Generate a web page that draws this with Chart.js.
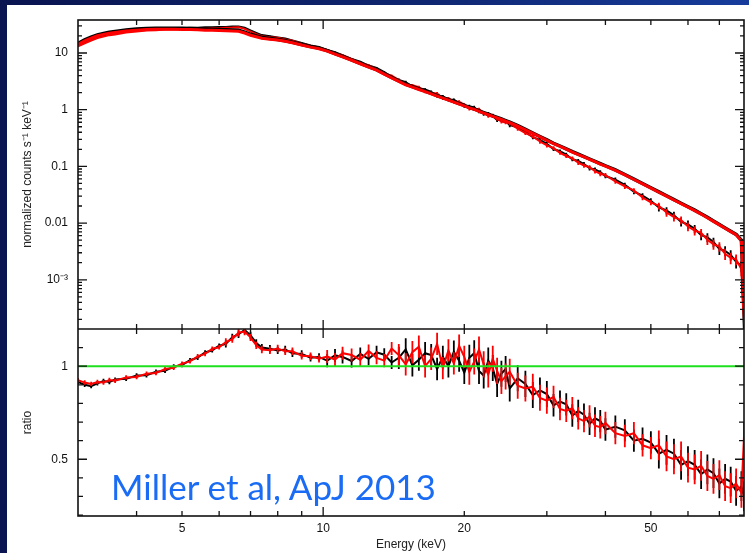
<!DOCTYPE html>
<html>
<head>
<meta charset="utf-8">
<script src="https://cdn.jsdelivr.net/npm/chart.js@4/dist/chart.umd.min.js"></script>
<style>
html, body { margin: 0; padding: 0; width: 749px; height: 553px; overflow: hidden;
  background: linear-gradient(90deg, #091450 0%, #0f2670 55%, #173c9c 100%); }
#panel { position: absolute; left: 7px; top: 5px; width: 742px; height: 548px; background: #fff; }
#wrap { position: absolute; left: 0; top: 0; width: 749px; height: 553px; }
#credit { position: absolute; left: 111px; top: 465px; font-family: Lato, 'Open Sans', sans-serif;
  font-size: 35px; color: #1a6cf5; white-space: nowrap; }
</style>
</head>
<body>
<div id="panel"></div>
<div id="wrap"><canvas id="spec" width="749" height="553"></canvas></div>
<div id="credit">Miller et al, ApJ 2013</div>
<script>
// energy grid (keV)
const energy = [3.0, 3.1, 3.2, 3.3, 3.4, 3.5, 3.6, 3.8, 4.0, 4.2,
  4.4, 4.6, 4.8, 5.0, 5.2, 5.4, 5.6, 5.8, 6.0, 6.2,
  6.4, 6.6, 6.8, 7.0, 7.2, 7.4, 7.7, 8.0, 8.3, 8.6,
  9.0, 9.4, 9.8, 10.2, 10.6, 11.0, 11.5, 12.0, 12.5, 13.0,
  13.5, 14.0, 14.5, 15.0, 15.5, 16.0, 16.5, 17.0, 17.5, 18.0,
  18.5, 19.0, 19.5, 20.0, 20.5, 21.0, 21.5, 22.0, 22.5, 23.0,
  23.5, 24.0, 24.5, 25.0, 26, 27, 28, 29, 30, 31,
  32, 33, 34, 35, 36, 37, 38, 39, 40, 42,
  44, 46, 48, 50, 52, 54, 56, 58, 60, 62,
  64, 66, 68, 70, 72, 74, 76, 78, 79];

// folded model, counts s-1 keV-1 (black = FPMA, red = FPMB)
const modelFPMA = [14.7, 17.0, 19.1, 20.9, 22.2, 23.2, 24.0, 25.4, 26.4, 27.0,
  27.3, 27.4, 27.4, 27.2, 27.0, 26.7, 26.4, 26.2, 25.9, 25.7,
  25.5, 25.1, 23.4, 21.4, 20.0, 18.8, 18.0, 17.3, 16.5, 15.5,
  14.1, 13.0, 12.2, 11.0, 9.77, 8.71, 7.60, 6.59, 5.77, 5.07,
  4.33, 3.72, 3.21, 2.81, 2.55, 2.32, 2.12, 1.94, 1.77, 1.63,
  1.50, 1.39, 1.28, 1.19, 1.10, 1.03, 0.955, 0.891, 0.832, 0.780,
  0.730, 0.685, 0.643, 0.605, 0.525, 0.450, 0.388, 0.337, 0.293, 0.256,
  0.229, 0.204, 0.182, 0.164, 0.149, 0.135, 0.123, 0.112, 0.1026, 0.0865,
  0.0721, 0.0597, 0.0499, 0.0420, 0.0356, 0.0303, 0.0259, 0.0224, 0.0194, 0.0169,
  0.01466, 0.01262, 0.01089, 0.00944, 0.00822, 0.00719, 0.00631, 0.0050, 0.0004];
const modelFPMB = [14.1, 16.3, 18.3, 20.1, 21.3, 22.3, 23.0, 24.4, 25.3, 25.9,
  26.2, 26.3, 26.3, 26.1, 25.9, 25.6, 25.3, 25.1, 24.9, 24.7,
  24.5, 24.1, 22.5, 20.6, 19.3, 18.2, 17.5, 16.9, 16.1, 15.2,
  13.8, 12.7, 11.9, 10.8, 9.57, 8.54, 7.45, 6.46, 5.65, 4.97,
  4.24, 3.65, 3.15, 2.75, 2.50, 2.27, 2.08, 1.90, 1.73, 1.60,
  1.47, 1.36, 1.25, 1.17, 1.08, 1.01, 0.936, 0.873, 0.815, 0.764,
  0.715, 0.671, 0.630, 0.593, 0.515, 0.441, 0.381, 0.331, 0.288, 0.252,
  0.225, 0.201, 0.179, 0.161, 0.147, 0.133, 0.121, 0.110, 0.1010, 0.0851,
  0.0710, 0.0588, 0.0491, 0.0413, 0.0350, 0.0298, 0.0255, 0.0220, 0.0191, 0.0166,
  0.01442, 0.01241, 0.01071, 0.00929, 0.00809, 0.00707, 0.00621, 0.0048, 0.0003];

// data / model
const ratioFPMA = [0.915, 0.900, 0.893, 0.908, 0.920, 0.915, 0.928, 0.932, 0.950, 0.952,
  0.970, 0.976, 0.998, 1.006, 1.032, 1.046, 1.074, 1.086, 1.110, 1.120,
  1.155, 1.172, 1.195, 1.165, 1.125, 1.100, 1.094, 1.085, 1.090, 1.070,
  1.066, 1.046, 1.050, 1.030, 1.058, 1.050, 1.028, 1.066, 1.040, 1.075,
  1.062, 1.020, 1.045, 1.090, 1.005, 1.035, 1.070, 1.060, 0.985, 1.050,
  1.000, 1.078, 1.030, 0.965, 1.045, 1.070, 0.975, 0.950, 1.030, 0.990,
  0.905, 0.960, 0.985, 0.880, 0.935, 0.905, 0.845, 0.870, 0.850, 0.790,
  0.810, 0.795, 0.735, 0.760, 0.740, 0.690, 0.720, 0.705, 0.660, 0.675,
  0.655, 0.600, 0.610, 0.590, 0.530, 0.550, 0.530, 0.470, 0.490, 0.470,
  0.420, 0.445, 0.425, 0.370, 0.395, 0.380, 0.330, 0.355, 0.300];
const ratioFPMB = [0.925, 0.912, 0.905, 0.915, 0.912, 0.926, 0.922, 0.940, 0.942, 0.960,
  0.963, 0.985, 0.992, 1.014, 1.026, 1.053, 1.066, 1.094, 1.102, 1.130,
  1.146, 1.180, 1.186, 1.155, 1.112, 1.090, 1.086, 1.095, 1.080, 1.080,
  1.056, 1.054, 1.040, 1.052, 1.036, 1.070, 1.060, 1.035, 1.082, 1.045,
  1.030, 1.095, 1.060, 1.010, 1.075, 1.105, 1.000, 1.040, 1.120, 0.990,
  1.085, 1.015, 1.110, 1.050, 0.970, 1.025, 1.090, 1.010, 0.955, 1.040,
  0.975, 0.920, 0.945, 0.970, 0.895, 0.880, 0.890, 0.830, 0.815, 0.835,
  0.770, 0.760, 0.775, 0.720, 0.705, 0.730, 0.680, 0.672, 0.695, 0.640,
  0.625, 0.640, 0.575, 0.560, 0.575, 0.515, 0.500, 0.515, 0.455, 0.445,
  0.465, 0.410, 0.395, 0.415, 0.355, 0.345, 0.370, 0.320, 0.620];
// 1-sigma error on the ratio
const ratioErr = [0.012, 0.012, 0.012, 0.012, 0.012, 0.012, 0.012, 0.012, 0.012, 0.012,
  0.012, 0.012, 0.012, 0.012, 0.012, 0.012, 0.012, 0.012, 0.012, 0.02,
  0.02, 0.02, 0.02, 0.02, 0.02, 0.02, 0.02, 0.02, 0.02, 0.02,
  0.02, 0.02, 0.02, 0.035, 0.035, 0.035, 0.035, 0.035, 0.035, 0.035,
  0.035, 0.035, 0.06, 0.06, 0.06, 0.06, 0.06, 0.06, 0.06, 0.06,
  0.06, 0.06, 0.06, 0.06, 0.07, 0.07, 0.07, 0.07, 0.07, 0.07,
  0.07, 0.07, 0.07, 0.07, 0.07, 0.07, 0.07, 0.07, 0.07, 0.06,
  0.06, 0.06, 0.06, 0.06, 0.06, 0.06, 0.06, 0.06, 0.06, 0.06,
  0.06, 0.06, 0.06, 0.06, 0.08, 0.08, 0.08, 0.08, 0.08, 0.08,
  0.08, 0.08, 0.08, 0.08, 0.08, 0.08, 0.08, 0.08, 0.08];

const unityX = [3, 79];
const unityY = [1, 1];

const xTickLabels = [5, 10, 20, 50];
const xTickMarks = [4, 5, 6, 7, 8, 9, 10, 20, 30, 40, 50, 60, 70];
const yTopTicks = [0.001, 0.01, 0.1, 1, 10];
const yTopLabels = ['10\u207B\u00B3', '0.01', '0.1', '1', '10'];
const yRatioTicks = [0.5, 1];

function pts(xs, ys) {
  return xs.map((x, i) => ({x: x, y: ys[i]}));
}

// counts = model * ratio
function counts(model, ratio) {
  return model.map((m, i) => m * ratio[i]);
}
const countsA = counts(modelFPMA, ratioFPMA);
const countsB = counts(modelFPMB, ratioFPMB);

const errorBars = {
  id: 'errorBars',
  afterDatasetDraw(chart, args) {
    const ds = chart.data.datasets[args.index];
    if (!ds.errLo) return;
    const xs = chart.scales.x;
    const ys = chart.scales[args.meta.yAxisID];
    const ctx = chart.ctx;
    ctx.save();
    ctx.beginPath();
    ctx.rect(xs.left, ys.top, xs.right - xs.left, ys.bottom - ys.top);
    ctx.clip();
    ctx.strokeStyle = ds.borderColor;
    ctx.lineWidth = 1.8;
    ctx.beginPath();
    ds.data.forEach((p, i) => {
      const px = xs.getPixelForValue(p.x);
      ctx.moveTo(px, ys.getPixelForValue(ds.errLo[i]));
      ctx.lineTo(px, ys.getPixelForValue(ds.errHi[i]));
    });
    ctx.stroke();
    ctx.restore();
  }
};

const frameTicks = {
  id: 'frameTicks',
  afterDatasetsDraw(chart) {
    const ctx = chart.ctx;
    const xs = chart.scales.x, yt = chart.scales.y, yb = chart.scales.y2;
    const L = xs.left, R = xs.right;
    ctx.save();
    ctx.strokeStyle = '#111';
    ctx.lineWidth = 1.3;
    ctx.beginPath();
    const seg = (x1, y1, x2, y2) => { ctx.moveTo(x1, y1); ctx.lineTo(x2, y2); };
    xTickMarks.forEach(v => {
      const px = xs.getPixelForValue(v);
      const len = v === 10 ? 9 : 5;
      seg(px, yt.top, px, yt.top + len);
      seg(px, yt.bottom, px, yt.bottom - len);
      seg(px, yb.top, px, yb.top + len);
      seg(px, yb.bottom, px, yb.bottom - len);
    });
    for (let d = -4; d <= 1; d++) {
      for (let m = 1; m <= 9; m++) {
        const v = m * Math.pow(10, d);
        if (v <= yt.min || v >= yt.max) continue;
        const py = yt.getPixelForValue(v);
        const len = m === 1 ? 9 : 4;
        seg(L, py, L + len, py);
        seg(R, py, R - len, py);
      }
    }
    for (let k = 2; k <= 11; k++) {
      const py = yb.getPixelForValue(k / 10);
      const len = (k === 5 || k === 10) ? 9 : 5;
      seg(L, py, L + len, py);
      seg(R, py, R - len, py);
    }
    seg(L, yb.top, R, yb.top);
    ctx.stroke();
    ctx.lineWidth = 1.6;
    ctx.strokeRect(L, yt.top, R - L, yb.bottom - yt.top);
    ctx.restore();
  }
};

Chart.defaults.font.family = "'Liberation Sans', Arial, sans-serif";
Chart.defaults.color = '#222';

const tickFont = {size: 12};

new Chart(document.getElementById('spec'), {
  type: 'line',
  data: {
    datasets: [
      {label: 'unity', data: pts(unityX, unityY), yAxisID: 'y2', borderColor: '#1ee01e',
        borderWidth: 2, order: 0},
      {label: 'model FPMB', data: pts(energy, modelFPMB), yAxisID: 'y', borderColor: '#ff0000',
        borderWidth: 3, order: 1},
      {label: 'model FPMA', data: pts(energy, modelFPMA), yAxisID: 'y', borderColor: '#000000',
        borderWidth: 3.5, order: 2},
      {label: 'ratio FPMB', data: pts(energy, ratioFPMB), yAxisID: 'y2', borderColor: '#ff0000',
        borderWidth: 2, order: 3,
        errLo: ratioFPMB.map((r, i) => r - ratioErr[i]), errHi: ratioFPMB.map((r, i) => r + ratioErr[i])},
      {label: 'ratio FPMA', data: pts(energy, ratioFPMA), yAxisID: 'y2', borderColor: '#000000',
        borderWidth: 2, order: 4,
        errLo: ratioFPMA.map((r, i) => r - ratioErr[i]), errHi: ratioFPMA.map((r, i) => r + ratioErr[i])},
      {label: 'data FPMB', data: pts(energy, countsB), yAxisID: 'y', borderColor: '#ff0000',
        borderWidth: 2, order: 3,
        errLo: countsB.map((c, i) => c * (1 - ratioErr[i] / ratioFPMB[i])),
        errHi: countsB.map((c, i) => c * (1 + ratioErr[i] / ratioFPMB[i]))},
      {label: 'data FPMA', data: pts(energy, countsA), yAxisID: 'y', borderColor: '#000000',
        borderWidth: 2, order: 4,
        errLo: countsA.map((c, i) => c * (1 - ratioErr[i] / ratioFPMA[i])),
        errHi: countsA.map((c, i) => c * (1 + ratioErr[i] / ratioFPMA[i]))}
    ]
  },
  options: {
    responsive: false,
    animation: false,
    layout: {padding: {top: 20, right: 5, left: 0, bottom: 0}},
    elements: {point: {radius: 0}, line: {tension: 0}},
    plugins: {legend: {display: false}, tooltip: {enabled: false}},
    scales: {
      x: {
        type: 'logarithmic', min: 3, max: 79,
        grid: {display: false, drawTicks: false}, border: {display: false},
        afterBuildTicks: s => { s.ticks = xTickLabels.map(v => ({value: v})); },
        afterFit: s => { s.height = 37; },
        ticks: {autoSkip: false, maxRotation: 0, padding: 5, font: tickFont, color: '#111',
          callback: v => String(v)},
        title: {display: true, text: 'Energy (keV)', font: {size: 12}, color: '#222',
          padding: {top: 0, bottom: 1}}
      },
      y2: {
        type: 'linear', position: 'left', stack: 'panels', stackWeight: 187,
        min: 0.195, max: 1.2,
        grid: {display: false, drawTicks: false}, border: {display: false},
        afterBuildTicks: s => { s.ticks = yRatioTicks.map(v => ({value: v})); },
        afterFit: s => { s.width = 78; },
        ticks: {autoSkip: false, padding: 10, font: tickFont, color: '#111',
          callback: v => String(v)},
        title: {display: true, text: 'ratio', font: {size: 12}, color: '#222',
          padding: {top: 20, bottom: 0}}
      },
      y: {
        type: 'logarithmic', position: 'left', stack: 'panels', stackWeight: 309,
        min: 1.355e-4, max: 38.2,
        grid: {display: false, drawTicks: false}, border: {display: false},
        afterBuildTicks: s => { s.ticks = yTopTicks.map(v => ({value: v})); },
        afterFit: s => { s.width = 78; },
        ticks: {autoSkip: false, padding: 10, font: tickFont, color: '#111',
          callback: v => yTopLabels[yTopTicks.indexOf(v)]},
        title: {display: true, text: 'normalized counts s\u207B\u00B9 keV\u207B\u00B9',
          font: {size: 12}, color: '#222', padding: {top: 20, bottom: 0}}
      }
    }
  },
  plugins: [errorBars, frameTicks]
});
</script>
</body>
</html>
